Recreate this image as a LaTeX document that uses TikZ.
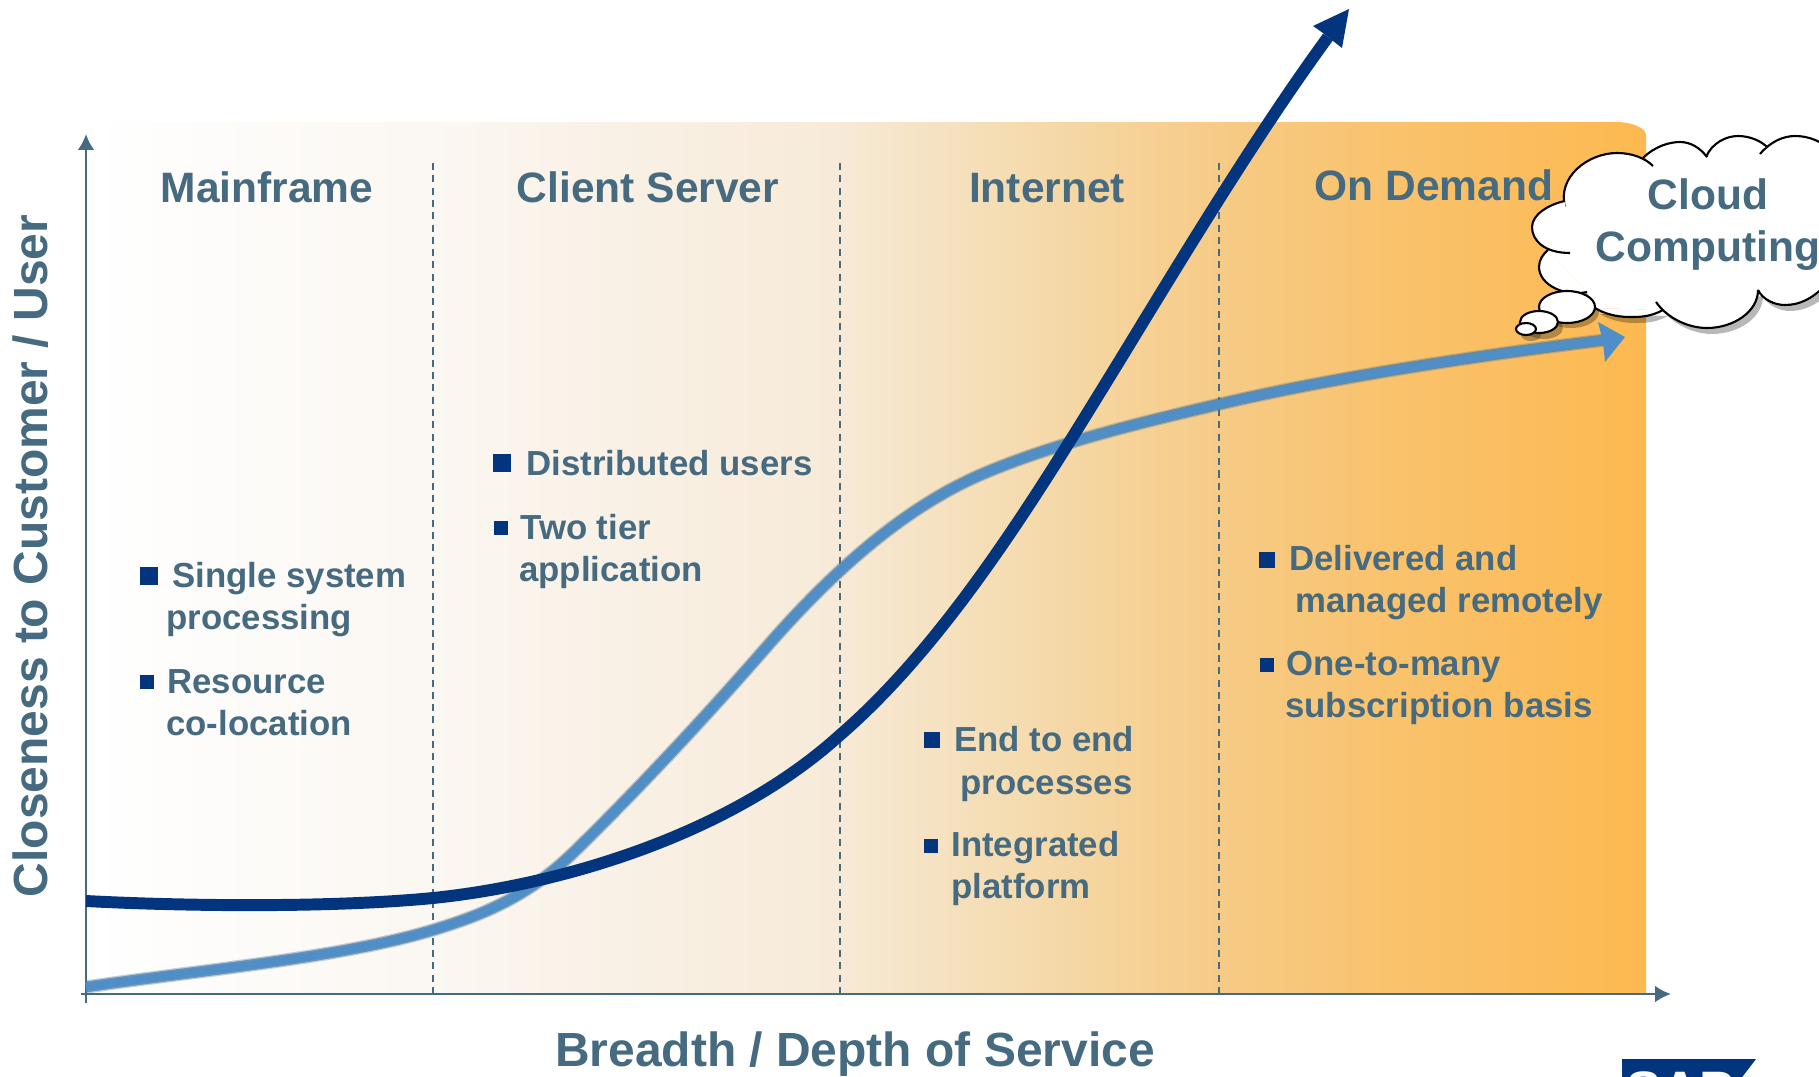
\documentclass[tikz,border=0pt]{standalone}
\usepackage{fontspec}
\setmainfont{Liberation Sans}
\usetikzlibrary{arrows.meta}
\definecolor{slate}{HTML}{466A80}
\definecolor{navy}{HTML}{03357E}
\definecolor{skyline}{HTML}{4F8EC6}
\definecolor{skyedge}{HTML}{4A7CA6}
\definecolor{peach}{HTML}{FDB950}
\definecolor{sandA}{HTML}{FBF7F2}
\definecolor{sandB}{HTML}{F7EAD8}
\definecolor{sandC}{HTML}{F5DDB4}
\definecolor{sandD}{HTML}{F6CB86}
\definecolor{sandE}{HTML}{F9C26C}
\tikzset{axis/.style={slate,line width=1.6pt,-{Latex[length=9pt,width=9.5pt]}},
  era/.style={slate,line width=0.8pt,dash pattern=on 4pt off 3pt},
  head/.style={slate,font=\bfseries\fontsize{24.2}{28}\selectfont,anchor=base},
  axisname/.style={slate,font=\bfseries\fontsize{27.3}{32}\selectfont,anchor=base},
  lbl/.style={slate,font=\bfseries\fontsize{19.8}{24}\selectfont,anchor=base west,inner sep=0pt},
  tick/.style={anchor=center,minimum size=#1,inner sep=0pt,fill=navy},
  lobe/.style={fill=white,draw=black,line width=1.2pt},
  dropshade/.style={fill=black,fill opacity=.28}}
\pgfdeclarehorizontalshading{eras}{100bp}{color(0bp)=(white);color(25bp)=(white);
  color(36bp)=(sandA);color(49bp)=(sandB);color(54.25bp)=(sandC);color(61.3bp)=(sandD);
  color(67bp)=(sandE);color(75bp)=(peach);color(100bp)=(peach)}
\newcommand{\lowerlobes}[1]{%
  \path[#1] (1758,290) .. controls (1763,300) and (1775,305) .. (1785,305)
    .. controls (1800,305) and (1815,298) .. (1830,280);
  \path[#1] (1663,310) .. controls (1650,317) and (1640,317) .. (1630,317)
    .. controls (1615,317) and (1603,313) .. (1595,308);
  \path[#1] (1656,302) .. controls (1667,318) and (1688,328) .. (1707,328)
    .. controls (1733,328) and (1758,312) .. (1758,290);
}
\begin{document}
\begin{tikzpicture}[x=0.02cm,y=-0.02cm]
        \clip (0,0) rectangle (1819,1076);
        % Background of the four eras
        \shade[shading=eras] (86,122) -- (1616,122)
        .. controls (1632,122) and (1646,128) .. (1646,135) -- (1646,994) -- (86,994) -- cycle;
        % Axes
        \draw[axis] (86,1003) -- (86,134);
        \draw[axis] (81,994) -- (1671,994);
        % Borders between the eras
        \foreach \x in {433,840,1219}
            \draw[era] (\x,163) -- (\x,998);
        % Lower curve, blurred
        \foreach \w/\c/\o in {7.6/skyedge/.35,6.2/skyedge/.7,4.6/skyline/1}
            \draw[\c,line width=\w pt,opacity=\o] (86,987)
            .. controls (200,970) and (340,958) .. (433,930)
            .. controls (486,914) and (530,895) .. (575,851)
            .. controls (620,807) and (690,735) .. (770,643)
            .. controls (830,575) and (900,510) .. (980,475)
            .. controls (1050,445) and (1130,425) .. (1220,404)
            .. controls (1330,378) and (1480,355) .. (1605,340);
        % Light arrow head
        \fill[skyline] (1625,337) -- (1598,322) -- (1603,342) -- (1605,362) -- cycle;
        % Dark curve with arrow
        \draw[navy,line width=6.8pt] (86,901)
        .. controls (180,906) and (330,908) .. (433,898)
        .. controls (560,885) and (730,835) .. (840,735)
        .. controls (950,640) and (1040,490) .. (1120,360)
        .. controls (1190,245) and (1260,130) .. (1328,37);
        \fill[navy] (1349,9) -- (1313,26) -- (1323,33) -- (1333,41) -- (1342,48) -- cycle;
        % Era names
        \node[head] (mainframe) at (267,202) {Mainframe};
        \node[head] (clientserver) at (648,202) {Client Server};
        \node[head] (internet) at (1047,202) {Internet};
        \node[head] (ondemand) at (1434,200) {On Demand};
        % Mainframe points
        \node[tick=10.5pt] (m1) at (149,576) {};
        \node[lbl] (m1a) at (172,587) {Single system};
        \node[lbl] (m1b) at (166,629) {processing};
        \node[tick=8.5pt] (m2) at (147,682) {};
        \node[lbl] (m2a) at (167,693) {Resource};
        \node[lbl] (m2b) at (166,735) {co-location};
        % Client Server points
        \node[tick=10.5pt] (c1) at (502,463) {};
        \node[lbl] (c1a) at (526,475) {Distributed users};
        \node[tick=8.5pt] (c2) at (501,528) {};
        \node[lbl] (c2a) at (520,539) {Two tier};
        \node[lbl] (c2b) at (519,581) {application};
        % Internet points
        \node[tick=9pt] (i1) at (932,740) {};
        \node[lbl] (i1a) at (954,751) {End to end};
        \node[lbl] (i1b) at (960,794) {processes};
        \node[tick=8.5pt] (i2) at (931,846) {};
        \node[lbl] (i2a) at (951,856) {Integrated};
        \node[lbl] (i2b) at (951,898) {platform};
        % On Demand points
        \node[tick=9pt] (d1) at (1267,560) {};
        \node[lbl] (d1a) at (1289,570) {Delivered and};
        \node[lbl] (d1b) at (1295,612) {managed remotely};
        \node[tick=8.5pt] (d2) at (1267,665) {};
        \node[lbl] (d2a) at (1286,675) {One-to-many};
        \node[lbl] (d2b) at (1285,717) {subscription basis};
        % Axis names
        \node[axisname] (xname) at (855,1066) {Breadth / Depth of Service};
        \node[axisname,rotate=90] (yname) at (48,556) {Closeness to Customer / User};
        % Thought bubbles shadow
        \fill[dropshade] (1571,312) ellipse [x radius=28,y radius=16];
        \fill[dropshade] (1544,328) ellipse [x radius=19,y radius=11];
        \fill[dropshade] (1531,335) ellipse [x radius=10,y radius=6];
        % Cloud
        \begin{scope}[shift={(5,6)}]
            \lowerlobes{dropshade}
        \end{scope}
        \fill[white] (1565,207) -- (1650,165) -- (1706,157) -- (1765,148) -- (1830,150) -- (1830,280)
        -- (1758,290) -- (1656,302) -- (1663,310) -- (1595,308) -- (1587,292) -- (1548,250) -- cycle;
        \path[lobe] (1760,154) .. controls (1770,142) and (1783,136) .. (1795,136)
        .. controls (1810,136) and (1822,142) .. (1830,150);
        \path[lobe] (1706,157) .. controls (1712,143) and (1726,136) .. (1738,136)
        .. controls (1750,136) and (1761,141) .. (1767,147);
        \path[lobe] (1643,158) .. controls (1655,146) and (1670,142) .. (1680,142)
        .. controls (1691,142) and (1700,148) .. (1707,157);
        \path[lobe] (1565,207) .. controls (1557,177) and (1588,153) .. (1617,153)
        .. controls (1632,153) and (1645,158) .. (1653,166);
        \lowerlobes{lobe}
        \path[lobe] (1587,292) .. controls (1565,297) and (1539,285) .. (1539,267)
        .. controls (1539,260) and (1543,254) .. (1548,250);
        \path[lobe] (1570,253) .. controls (1545,253) and (1532,241) .. (1532,227)
        .. controls (1532,214) and (1550,204) .. (1565,201);
        \draw[lobe] (1567,307) ellipse [x radius=28,y radius=16];
        \draw[lobe] (1539,322) ellipse [x radius=19,y radius=11];
        \draw[lobe] (1526,329) ellipse [x radius=10,y radius=6];
        \node[head] (cloudname) at (1708,209) {Cloud};
        \node[head] (computing) at (1708,261) {Computing};
        % Logo at the lower edge
        \fill[navy] (1622,1059) -- (1756,1059) -- (1717,1110) -- (1622,1110) -- cycle;
        \node[white,font=\bfseries\fontsize{30}{32}\selectfont,anchor=base west,inner sep=0pt] (logo) at (1626,1108) {SAP};
\end{tikzpicture}
\end{document}
